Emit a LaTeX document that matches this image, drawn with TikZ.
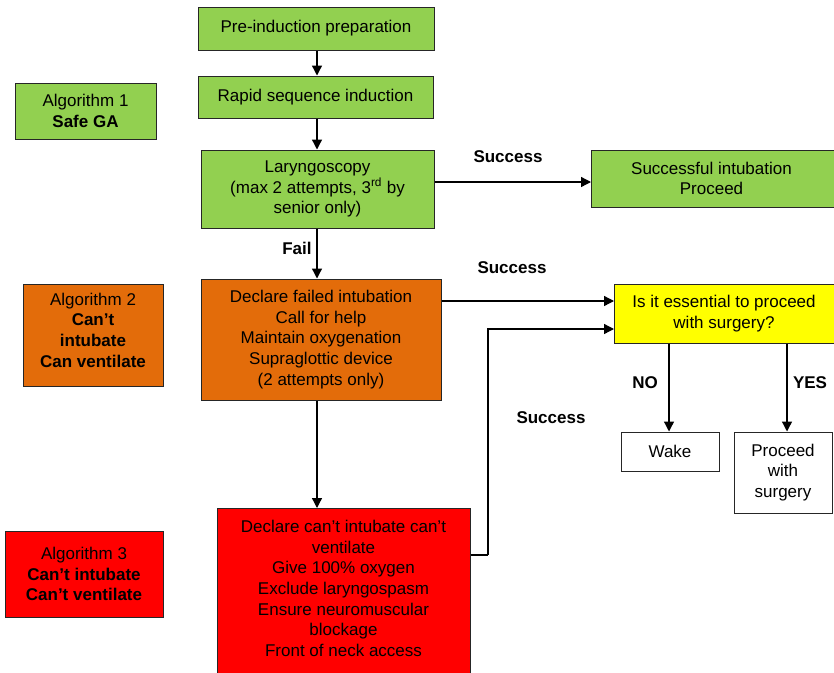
\documentclass[tikz,border=0pt]{standalone}
\usepackage{fontspec}
\setmainfont{Liberation Sans}
\usetikzlibrary{arrows.meta,calc}
\definecolor{grn}{RGB}{146,208,80}
\definecolor{org}{RGB}{227,108,10}
\definecolor{rd}{RGB}{255,0,0}
\definecolor{yl}{RGB}{255,255,0}
\tikzset{
  box/.style={draw=black!85, line width=1pt, align=center, inner sep=0pt,
    font=\fontsize{17}{20.6}\selectfont},
  txt/.style={align=center, inner sep=0pt, font=\fontsize{17}{20.6}\selectfont},
  lbl/.style={inner sep=0pt, font=\fontsize{17}{20.6}\selectfont\bfseries},
  arr/.style={line width=1.3pt, -{Triangle[length=10pt,width=10pt]}},
  ln/.style={line width=1.3pt}
}
\begin{document}
\begin{tikzpicture}[x=1pt,y=-1pt]
\useasboundingbox (0,0) rectangle (834,672);
\fill[white] (0,0) rectangle (834,672);
% nodes
\node[box, fill=grn, minimum width=236, minimum height=43] (pre) at (316,28.5) {Pre-induction preparation};
\node[box, fill=grn, minimum width=235, minimum height=42] (rsi) at (315.5,97) {Rapid sequence induction};
\node[box, fill=grn, minimum width=233, minimum height=78] (lar) at (317.5,189) {Laryngoscopy\\(max 2 attempts, 3\textsuperscript{rd} by\\senior only)};
\node[box, fill=grn, minimum width=249, minimum height=57] (ok) at (715.5,178.5) {\hspace*{-8pt}Successful intubation\\\hspace*{-8pt}Proceed};
\node[box, fill=grn, minimum width=141, minimum height=56] (alg1) at (85.5,111) {Algorithm 1\\\textbf{Safe GA}};
\node[box, fill=org, minimum width=140, minimum height=102] (alg2) at (93,335) {Algorithm 2\\\textbf{Can’t}\\\textbf{intubate}\\\textbf{Can ventilate}\\[-10.6pt]};
\node[box, fill=org, minimum width=240, minimum height=121] (fail) at (321,339.5) {Declare failed intubation\\Call for help\\Maintain oxygenation\\Supraglottic device\\(2 attempts only)};
\node[box, fill=yl, minimum width=226, minimum height=59] (q) at (727,313.5) {\hspace*{-6pt}Is it essential to proceed\\\hspace*{-6pt}with surgery?};
\node[box, minimum width=98, minimum height=39] (wake) at (670,451.5) {Wake};
\node[box, minimum width=98, minimum height=81] (proc) at (783,472.5) {Proceed\\with\\surgery};
\node[box, fill=rd, minimum width=158, minimum height=86] (alg3) at (84,574) {Algorithm 3\\\textbf{Can’t intubate}\\\textbf{Can’t ventilate}};
\node[box, fill=rd, minimum width=253, minimum height=220, anchor=north] (red) at (343.5,508) {};
\node[txt] (redtxt) at (343.5,588.5) {Declare can’t intubate can’t\\ventilate\\Give 100\% oxygen\\Exclude laryngospasm\\Ensure neuromuscular\\blockage\\Front of neck access};
% labels
\node[lbl] (s1) at (508,157) {Success};
\node[lbl] (s2) at (512,268) {Success};
\node[lbl] (s3) at (551,418) {Success};
\node[lbl] (fl) at (297,248) {Fail};
\node[lbl] (no) at (645,383) {NO};
\node[lbl] (yes) at (810,383) {YES};
% coordinates
\coordinate (okin) at (591,182);
\coordinate (qin1) at (614,301);
\coordinate (qin2) at (614,329);
\coordinate (rj) at (488,555);
% connectors
\draw[arr] (pre.south -| 317,0) -- (rsi.north -| 317,0);
\draw[arr] (rsi.south -| 317,0) -- (lar.north -| 317,0);
\draw[arr] (lar.south -| 317,0) -- (fail.north -| 317,0);
\draw[arr] (fail.south -| 317,0) -- (red.north -| 317,0);
\draw[arr] (okin -| lar.east) -- (okin);
\draw[arr] (qin1 -| fail.east) -- (qin1);
\draw[ln] (rj -| red.east) -- (rj);
\draw[arr] (rj) |- (qin2);
\draw[arr] (q.south -| 669,0) -- (wake.north -| 669,0);
\draw[arr] (q.south -| 787,0) -- (proc.north -| 787,0);
\end{tikzpicture}
\end{document}
